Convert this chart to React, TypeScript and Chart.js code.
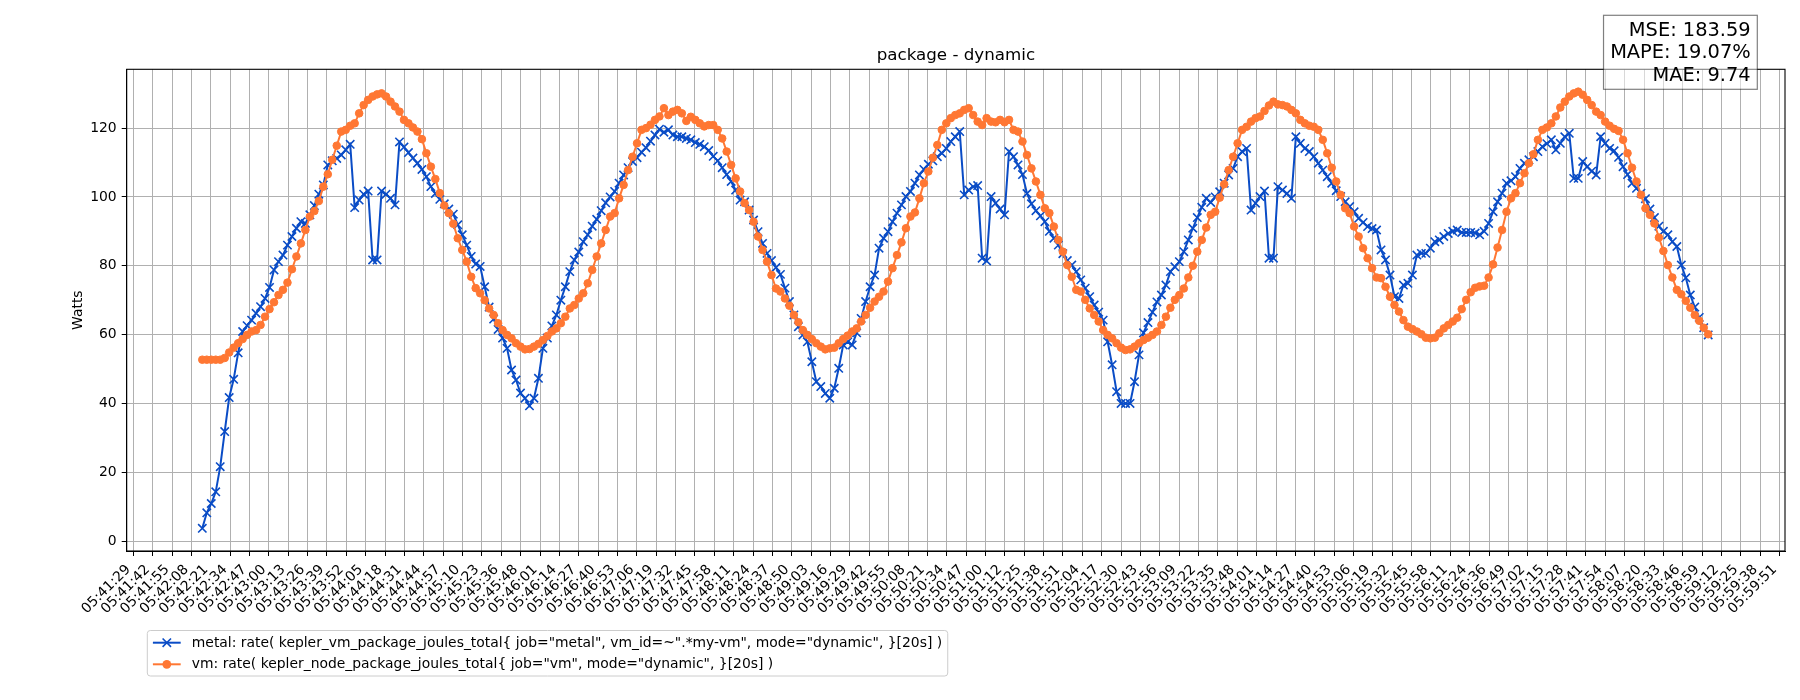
import React, { useEffect, useRef } from 'react';
import { Chart, registerables } from 'chart.js';

Chart.register(...registerables);

const TITLE = 'package - dynamic';
const Y_LABEL = 'Watts';
const METAL_LABEL = 'metal: rate( kepler_vm_package_joules_total{ job="metal", vm_id=~".*my-vm", mode="dynamic", }[20s] )';
const VM_LABEL = 'vm: rate( kepler_node_package_joules_total{ job="vm", mode="dynamic", }[20s] )';
const STATS = ['MSE: 183.59', 'MAPE: 19.07%', 'MAE: 9.74'];

const TICK_LABELS = [
  '05:41:29', '05:41:42', '05:41:55', '05:42:08', '05:42:21', '05:42:34', '05:42:47', '05:43:00', '05:43:13', '05:43:26',
  '05:43:39', '05:43:52', '05:44:05', '05:44:18', '05:44:31', '05:44:44', '05:44:57', '05:45:10', '05:45:23', '05:45:36',
  '05:45:48', '05:46:01', '05:46:14', '05:46:27', '05:46:40', '05:46:53', '05:47:06', '05:47:19', '05:47:32', '05:47:45',
  '05:47:58', '05:48:11', '05:48:24', '05:48:37', '05:48:50', '05:49:03', '05:49:16', '05:49:29', '05:49:42', '05:49:55',
  '05:50:08', '05:50:21', '05:50:34', '05:50:47', '05:51:00', '05:51:12', '05:51:25', '05:51:38', '05:51:51', '05:52:04',
  '05:52:17', '05:52:30', '05:52:43', '05:52:56', '05:53:09', '05:53:22', '05:53:35', '05:53:48', '05:54:01', '05:54:14',
  '05:54:27', '05:54:40', '05:54:53', '05:55:06', '05:55:19', '05:55:32', '05:55:45', '05:55:58', '05:56:11', '05:56:24',
  '05:56:36', '05:56:49', '05:57:02', '05:57:15', '05:57:28', '05:57:41', '05:57:54', '05:58:07', '05:58:20', '05:58:33',
  '05:58:46', '05:58:59', '05:59:12', '05:59:25', '05:59:38', '05:59:51',
];

const Y_TICKS = [0, 20, 40, 60, 80, 100, 120];

// sampling: seconds after the first tick label (05:41:29), one sample every 3 s
const FIRST_SAMPLE_OFFSET_S = 46.2;
const SAMPLE_STEP_S = 3;

const METAL_W = [
  3.7, 8.2, 10.9, 14.3, 21.6, 31.8, 41.7, 47.0, 54.7, 60.9,
  62.6, 64.2, 66.2, 68.1, 70.5, 73.7, 78.8, 81.2, 83.1, 86.0,
  88.5, 90.9, 92.8, 92.3, 94.8, 97.5, 100.8, 103.5, 109.3, 110.5,
  111.2, 112.2, 113.7, 115.3, 96.9, 99.1, 100.8, 101.7, 81.7, 81.7,
  101.7, 100.8, 99.6, 97.7, 116.0, 114.5, 112.9, 111.3, 109.8, 108.0,
  105.9, 103.0, 101.0, 99.3, 98.0, 96.5, 95.0, 91.9, 89.0, 86.0,
  82.7, 80.5, 79.8, 73.9, 68.0, 64.5, 61.5, 59.0, 56.0, 49.7,
  46.8, 43.0, 41.5, 39.3, 41.5, 47.3, 56.0, 59.0, 62.5, 65.7,
  70.0, 73.9, 78.3, 81.7, 84.0, 87.0, 89.0, 91.5, 93.5, 96.0,
  98.3, 100.0, 101.6, 104.0, 106.4, 108.5, 110.3, 111.4, 113.0, 114.3,
  116.2, 118.0, 119.7, 118.8, 119.5, 118.0, 117.5, 117.5, 117.0, 116.6,
  115.8, 115.3, 114.6, 113.5, 111.8, 110.5, 108.5, 106.5, 104.5, 102.0,
  99.1, 98.6, 96.2, 93.3, 89.9, 86.5, 83.6, 81.5, 79.5, 77.5,
  73.5, 69.6, 65.7, 62.3, 59.9, 57.9, 52.1, 46.3, 44.9, 42.9,
  41.5, 44.4, 50.2, 57.0, 57.9, 57.0, 60.5, 64.7, 69.6, 73.9,
  77.3, 85.1, 88.0, 89.9, 92.8, 95.3, 97.7, 100.1, 101.6, 104.0,
  106.4, 108.0, 109.5, 110.5, 111.7, 112.7, 114.1, 116.1, 117.5, 119.0,
  100.6, 102.0, 103.0, 103.3, 82.2, 81.4, 100.1, 98.2, 96.5, 94.8,
  113.2, 111.7, 109.3, 106.5, 101.0, 98.0, 96.0, 94.5, 92.8, 90.0,
  88.0, 86.0, 83.5, 81.5, 80.2, 78.3, 75.9, 73.5, 71.0, 68.6,
  66.5, 64.2, 57.9, 51.2, 43.4, 40.0, 40.0, 40.0, 46.3, 54.1,
  60.5, 63.5, 66.5, 69.5, 71.5, 74.4, 78.3, 79.7, 81.2, 84.1,
  87.5, 90.9, 94.0, 97.0, 99.6, 98.4, 100.0, 101.5, 104.0, 106.4,
  108.3, 111.7, 113.2, 114.1, 96.2, 98.2, 100.1, 101.7, 82.2, 82.2,
  103.0, 102.0, 101.0, 99.6, 117.5, 115.6, 114.1, 113.2, 111.7, 109.8,
  107.8, 105.9, 104.0, 101.8, 100.1, 98.6, 97.2, 95.7, 93.8, 92.6,
  91.4, 90.8, 90.4, 84.6, 81.7, 77.3, 71.0, 70.5, 74.4, 74.9,
  77.3, 83.1, 83.6, 83.6, 85.1, 87.0, 87.5, 88.5, 89.4, 90.0,
  90.4, 89.7, 89.7, 89.7, 89.5, 89.0, 90.0, 92.3, 95.7, 98.6,
  101.1, 104.0, 104.7, 105.9, 108.3, 109.8, 110.8, 111.7, 113.2, 114.6,
  115.5, 116.6, 113.7, 115.6, 117.5, 118.5, 105.4, 105.4, 110.3, 108.8,
  107.5, 106.4, 117.5, 115.6, 114.1, 113.4, 111.5, 108.8, 106.5, 104.0,
  102.5, 101.1, 99.5, 96.5, 94.0, 91.5, 90.0, 89.0, 87.0, 85.6,
  80.2, 76.5, 71.5, 68.0, 65.0, 62.0, 59.9,
];

const VM_W = [
  52.7, 52.7, 52.7, 52.7, 52.7, 53.2, 54.8, 56.2, 57.5, 58.7,
  59.9, 60.9, 61.3, 62.8, 65.2, 67.4, 69.4, 71.5, 73.0, 75.1,
  79.0, 82.7, 86.5, 90.4, 94.3, 95.9, 98.8, 103.0, 106.6, 110.8,
  114.9, 119.0, 119.5, 120.7, 121.4, 124.3, 126.7, 128.2, 129.2, 129.8,
  130.1, 129.2, 127.7, 126.3, 124.8, 122.4, 121.4, 120.2, 119.0, 116.8,
  112.7, 108.8, 105.2, 101.1, 97.5, 95.3, 92.2, 88.0, 84.6, 81.2,
  76.8, 73.5, 72.0, 70.0, 67.6, 65.7, 63.3, 61.3, 59.9, 58.9,
  57.5, 56.5, 55.7, 55.8, 56.5, 57.3, 58.4, 59.6, 60.9, 61.8,
  63.3, 65.2, 67.6, 68.6, 70.5, 72.0, 74.9, 78.8, 82.7, 86.5,
  90.4, 94.3, 95.3, 99.6, 103.5, 107.8, 111.7, 115.6, 119.5, 120.0,
  121.0, 122.4, 123.4, 125.8, 123.8, 124.8, 125.3, 124.3, 122.1, 123.3,
  122.4, 121.4, 120.5, 120.9, 120.9, 119.5, 117.0, 113.2, 109.3, 105.4,
  101.6, 98.2, 96.2, 92.8, 88.5, 84.6, 81.2, 77.3, 73.4, 72.5,
  70.5, 68.4, 65.7, 63.6, 61.3, 59.9, 58.7, 57.5, 56.5, 55.7,
  56.0, 56.2, 57.5, 58.7, 59.7, 60.9, 61.8, 63.8, 65.7, 67.8,
  69.6, 71.0, 72.5, 75.4, 79.3, 83.1, 86.8, 90.9, 94.3, 95.5,
  99.6, 104.0, 107.4, 111.4, 115.1, 119.5, 121.4, 122.9, 123.8, 124.3,
  125.3, 125.8, 123.8, 121.9, 120.9, 122.9, 121.9, 121.7, 122.4, 121.7,
  122.4, 119.5, 119.0, 116.1, 112.2, 108.3, 104.5, 100.6, 96.7, 95.3,
  91.4, 87.5, 84.1, 80.2, 76.8, 73.0, 72.5, 70.1, 67.6, 65.7,
  63.8, 61.3, 59.9, 58.9, 57.5, 56.2, 55.5, 55.7, 56.5, 57.5,
  58.4, 59.1, 59.9, 60.9, 62.8, 65.2, 67.8, 70.1, 71.5, 73.4,
  76.6, 80.0, 84.1, 87.5, 91.1, 94.8, 95.7, 99.8, 103.7, 107.8,
  111.7, 115.6, 119.5, 120.4, 121.9, 122.9, 123.4, 125.0, 126.6, 127.7,
  126.9, 126.7, 126.3, 125.3, 124.3, 122.4, 121.4, 120.7, 120.4, 119.5,
  116.6, 112.7, 108.5, 104.5, 100.6, 96.7, 95.3, 91.4, 88.5, 85.1,
  82.2, 79.3, 76.6, 76.4, 73.9, 71.0, 68.6, 66.7, 64.2, 62.3,
  61.6, 60.9, 60.1, 59.1, 58.9, 59.1, 60.4, 61.8, 62.8, 63.8,
  64.9, 67.4, 70.1, 72.3, 73.6, 74.0, 74.2, 76.6, 80.4, 85.3,
  90.4, 95.7, 99.6, 101.1, 104.0, 106.9, 109.8, 112.4, 116.6, 119.5,
  120.2, 121.4, 123.4, 126.0, 127.7, 129.2, 130.1, 130.6, 129.7, 128.2,
  126.7, 124.8, 123.8, 121.9, 120.7, 119.8, 119.2, 116.6, 112.7, 108.5,
  104.5, 100.6, 96.7, 94.8, 92.3, 88.2, 84.3, 80.2, 76.6, 73.0,
  71.7, 69.8, 67.8, 65.7, 64.0, 62.0, 60.1,
];

const BLUE = '#0a4cc6';
const ORANGE = '#ff7733';
const FONT = "'DejaVu Sans', 'Liberation Sans', sans-serif";

const toSec = (s: string) => {
  const [h, m, sec] = s.split(':').map(Number);
  return h * 3600 + m * 60 + sec;
};
const TICK_STEP = (toSec(TICK_LABELS[TICK_LABELS.length - 1]) - toSec(TICK_LABELS[0])) / (TICK_LABELS.length - 1);

const X_MIN = -4.4;
const X_MAX = 1105.6;
const Y_MIN = -2.9;
const Y_MAX = 137.1;

function drawMarker(ctx: CanvasRenderingContext2D, kind: string, x: number, y: number, color: string) {
  ctx.save();
  ctx.strokeStyle = color;
  ctx.fillStyle = color;
  if (kind === 'x') {
    ctx.lineWidth = 1.6;
    ctx.beginPath();
    ctx.moveTo(x - 4.2, y - 4.2);
    ctx.lineTo(x + 4.2, y + 4.2);
    ctx.moveTo(x - 4.2, y + 4.2);
    ctx.lineTo(x + 4.2, y - 4.2);
    ctx.stroke();
  } else {
    ctx.beginPath();
    ctx.arc(x, y, 4.4, 0, Math.PI * 2);
    ctx.fill();
  }
  ctx.restore();
}

const decorPlugin = {
  id: 'decor',
  afterDraw(chart: any) {
    const ctx: CanvasRenderingContext2D = chart.ctx;
    const a = chart.chartArea;
    const xs = chart.scales.x;
    ctx.save();

    // axes frame
    ctx.strokeStyle = '#000';
    ctx.lineWidth = 1.1;
    ctx.strokeRect(a.left, a.top, a.right - a.left, a.bottom - a.top);

    // title
    ctx.fillStyle = '#000';
    ctx.font = `16.7px ${FONT}`;
    ctx.textAlign = 'center';
    ctx.textBaseline = 'alphabetic';
    ctx.fillText(TITLE, (a.left + a.right) / 2, a.top - 9);

    // y label
    ctx.save();
    ctx.translate(78, (a.top + a.bottom) / 2);
    ctx.rotate(-Math.PI / 2);
    ctx.font = `13.9px ${FONT}`;
    ctx.textAlign = 'center';
    ctx.textBaseline = 'middle';
    ctx.fillText(Y_LABEL, 0, 0);
    ctx.restore();

    // x tick labels, rotated 45deg, top-right corner of the rotated box at the tick
    ctx.font = `13.9px ${FONT}`;
    ctx.textAlign = 'right';
    ctx.textBaseline = 'bottom';
    const y0 = a.bottom + 9.8;
    const h = 16.2;
    TICK_LABELS.forEach((lab, k) => {
      const x = xs.getPixelForValue(k * TICK_STEP);
      ctx.save();
      ctx.translate(x, y0 + h * Math.SQRT1_2);
      ctx.rotate(-Math.PI / 4);
      ctx.fillText(lab, 0, 0);
      ctx.restore();
    });

    // legend
    ctx.font = `13.9px ${FONT}`;
    const lx = 147.3;
    const ly = 630.5;
    const textX = 191.8;
    const tw = Math.max(ctx.measureText(METAL_LABEL).width, ctx.measureText(VM_LABEL).width);
    const lw = textX + tw + 5.6 - lx;
    const lh = 45.5;
    const r = 3;
    ctx.beginPath();
    ctx.moveTo(lx + r, ly);
    ctx.lineTo(lx + lw - r, ly);
    ctx.arcTo(lx + lw, ly, lx + lw, ly + r, r);
    ctx.lineTo(lx + lw, ly + lh - r);
    ctx.arcTo(lx + lw, ly + lh, lx + lw - r, ly + lh, r);
    ctx.lineTo(lx + r, ly + lh);
    ctx.arcTo(lx, ly + lh, lx, ly + lh - r, r);
    ctx.lineTo(lx, ly + r);
    ctx.arcTo(lx, ly, lx + r, ly, r);
    ctx.closePath();
    ctx.fillStyle = 'rgba(255,255,255,0.8)';
    ctx.fill();
    ctx.strokeStyle = '#cccccc';
    ctx.lineWidth = 1;
    ctx.stroke();

    const rows = [
      { label: METAL_LABEL, color: BLUE, kind: 'x', y: 642.7 },
      { label: VM_LABEL, color: ORANGE, kind: 'o', y: 664.3 },
    ];
    rows.forEach((row) => {
      ctx.strokeStyle = row.color;
      ctx.lineWidth = 2;
      ctx.beginPath();
      ctx.moveTo(152.9, row.y);
      ctx.lineTo(180.7, row.y);
      ctx.stroke();
      drawMarker(ctx, row.kind, 166.8, row.y, row.color);
      ctx.fillStyle = '#000';
      ctx.textAlign = 'left';
      ctx.textBaseline = 'middle';
      ctx.fillText(row.label, textX, row.y + 0.5);
    });

    // stats box
    ctx.font = `19.4px ${FONT}`;
    const sRight = 1750.7;
    const sw = Math.max(...STATS.map((s) => ctx.measureText(s).width));
    const bx0 = sRight - sw - 6.6;
    const bx1 = 1757.3;
    const by0 = 15.3;
    const by1 = 89.3;
    ctx.fillStyle = 'rgba(255,255,255,0.5)';
    ctx.fillRect(bx0, by0, bx1 - bx0, by1 - by0);
    ctx.strokeStyle = 'rgba(0,0,0,0.5)';
    ctx.lineWidth = 1.2;
    ctx.strokeRect(bx0, by0, bx1 - bx0, by1 - by0);
    ctx.fillStyle = '#000';
    ctx.textAlign = 'right';
    ctx.textBaseline = 'alphabetic';
    const baselines = [36, 58.3, 80.5];
    STATS.forEach((s, i) => ctx.fillText(s, sRight, baselines[i]));

    ctx.restore();
  },
};

export default function App() {
  const ref = useRef<HTMLCanvasElement | null>(null);

  useEffect(() => {
    if (!ref.current) return;
    const toPoints = (arr: number[]) =>
      arr.map((y, i) => ({ x: FIRST_SAMPLE_OFFSET_S + i * SAMPLE_STEP_S, y }));

    const chart = new Chart(ref.current, {
      type: 'line',
      data: {
        datasets: [
          {
            label: 'metal',
            data: toPoints(METAL_W),
            borderColor: BLUE,
            backgroundColor: BLUE,
            borderWidth: 2,
            pointStyle: 'crossRot',
            pointRadius: 5.9,
            pointBorderWidth: 1.6,
            pointBorderColor: BLUE,
            pointBackgroundColor: BLUE,
            tension: 0,
            order: 2,
          },
          {
            label: 'vm',
            data: toPoints(VM_W),
            borderColor: ORANGE,
            backgroundColor: ORANGE,
            borderWidth: 2,
            pointStyle: 'circle',
            pointRadius: 3.8,
            pointBorderWidth: 1,
            pointBorderColor: ORANGE,
            pointBackgroundColor: ORANGE,
            tension: 0,
            order: 1,
          },
        ],
      },
      options: {
        responsive: false,
        animation: false,
        devicePixelRatio: 1,
        events: [],
        layout: { padding: { left: 0, right: 15, top: 69.3, bottom: 0 } },
        plugins: {
          legend: { display: false },
          title: { display: false },
          tooltip: { enabled: false },
        },
        scales: {
          x: {
            type: 'linear',
            min: X_MIN,
            max: X_MAX,
            afterBuildTicks: (scale: any) => {
              scale.ticks = TICK_LABELS.map((_, k) => ({ value: k * TICK_STEP }));
            },
            afterFit: (scale: any) => {
              scale.height = 149;
            },
            ticks: { display: false, autoSkip: false },
            grid: {
              color: '#b0b0b0',
              lineWidth: 1,
              tickColor: '#000',
              tickLength: 5,
              drawTicks: true,
            },
            border: { display: true, color: '#000', width: 1 },
          },
          y: {
            type: 'linear',
            min: Y_MIN,
            max: Y_MAX,
            afterBuildTicks: (scale: any) => {
              scale.ticks = Y_TICKS.map((v) => ({ value: v }));
            },
            afterFit: (scale: any) => {
              scale.width = 126.7;
            },
            ticks: {
              color: '#000',
              padding: 5,
              font: { family: FONT, size: 13.9 },
              callback: (v: any) => String(v),
            },
            grid: {
              color: '#b0b0b0',
              lineWidth: 1,
              tickColor: '#000',
              tickLength: 5,
              drawTicks: true,
            },
            border: { display: true, color: '#000', width: 1 },
          },
        },
      },
      plugins: [decorPlugin],
    });
    return () => chart.destroy();
  }, []);

  return (
    <div style={{ position: 'absolute', left: 0, top: 0, width: 1800, height: 700, background: '#fff' }}>
      <canvas ref={ref} width={1800} height={700} style={{ display: 'block' }} />
    </div>
  );
}
